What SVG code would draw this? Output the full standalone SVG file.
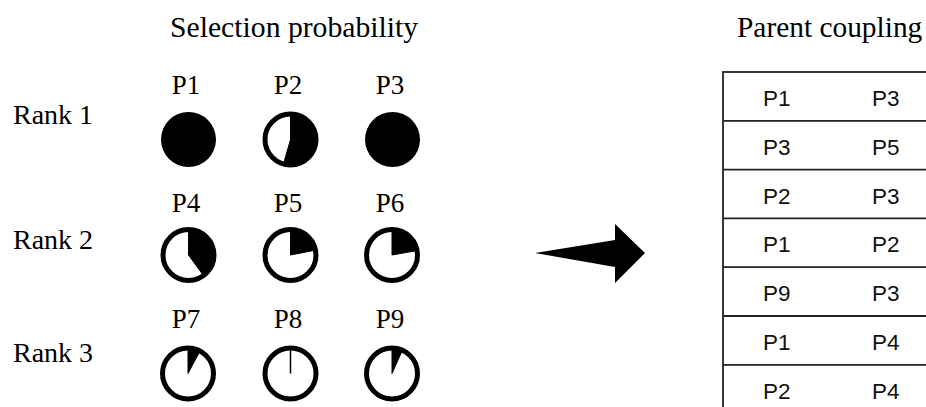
<svg xmlns="http://www.w3.org/2000/svg" width="926" height="407" viewBox="0 0 926 407">
<style>
.serif{font-family:"Liberation Serif","Times New Roman",serif;fill:#000}
.title{font-size:29.7px}
.title2{font-size:29.4px}
.rank{font-size:28px}
.plab{font-size:27px;text-anchor:middle}
.ring{fill:#fff;stroke:#000;stroke-width:5}
.solid{fill:#000}
.wedge{fill:#000;stroke:#000;stroke-width:1}
.cell{font-family:"Liberation Sans",Arial,sans-serif;font-size:22.5px;fill:#111}
.grid{fill:none;stroke:#222;stroke-width:1.8}
</style>
<rect width="926" height="407" fill="#fff"/>
<text class="serif title" x="170" y="37">Selection probability</text>
<text class="serif title2" x="737" y="37">Parent coupling</text>
<g id="rank-labels">
<text class="serif rank" x="13" y="124">Rank 1</text>
<text class="serif rank" x="13" y="249">Rank 2</text>
<text class="serif rank" x="13" y="362">Rank 3</text>
</g>
<g id="p1"><text class="serif plab" x="186" y="94">P1</text><circle class="solid" cx="188.5" cy="139.5" r="27.5"/></g>
<g id="p2"><text class="serif plab" x="288" y="94">P2</text><circle class="ring" cx="290.5" cy="139.5" r="25.5"/><path class="wedge" d="M290.5 139.5 L290.5 114 A25.5 25.5 0 1 1 283.47 164.01 Z"/></g>
<g id="p3"><text class="serif plab" x="390" y="94">P3</text><circle class="solid" cx="392.5" cy="139.5" r="27.5"/></g>
<g id="p4"><text class="serif plab" x="186" y="212">P4</text><circle class="ring" cx="188.5" cy="255" r="25.5"/><path class="wedge" d="M188.5 255 L188.5 229.5 A25.5 25.5 0 0 1 203.49 275.63 Z"/></g>
<g id="p5"><text class="serif plab" x="288" y="212">P5</text><circle class="ring" cx="290.5" cy="255" r="25.5"/><path class="wedge" d="M290.5 255 L290.5 229.5 A25.5 25.5 0 0 1 315.53 250.13 Z"/></g>
<g id="p6"><text class="serif plab" x="390" y="212">P6</text><circle class="ring" cx="392" cy="255" r="25.5"/><path class="wedge" d="M392 255 L392 229.5 A25.5 25.5 0 0 1 417.11 250.57 Z"/></g>
<g id="p7"><text class="serif plab" x="186" y="328">P7</text><circle class="ring" cx="188" cy="373.5" r="25.5"/><path class="wedge" d="M188 373.5 L188 348 A25.5 25.5 0 0 1 199.97 350.99 Z"/></g>
<g id="p8"><text class="serif plab" x="288" y="328">P8</text><circle class="ring" cx="290.5" cy="373.5" r="25.5"/><line x1="290.5" y1="373.5" x2="290.5" y2="348" stroke="#000" stroke-width="1.5"/></g>
<g id="p9"><text class="serif plab" x="390" y="328">P9</text><circle class="ring" cx="392" cy="373.5" r="25.5"/><path class="wedge" d="M392 373.5 L392 348 A25.5 25.5 0 0 1 402.37 350.21 Z"/></g>
<g id="connectors">
<polygon points="535,253 615,240 615,224 645,253 615,283 615,267" fill="#000"/>
</g>
<g id="table">
<rect class="grid" x="723" y="72" width="260" height="360"/>
<line class="grid" x1="723" y1="120.8" x2="926" y2="120.8"/>
<line class="grid" x1="723" y1="169.6" x2="926" y2="169.6"/>
<line class="grid" x1="723" y1="218.4" x2="926" y2="218.4"/>
<line class="grid" x1="723" y1="267.2" x2="926" y2="267.2"/>
<line class="grid" x1="723" y1="316" x2="926" y2="316"/>
<line class="grid" x1="723" y1="364.8" x2="926" y2="364.8"/>
<text class="cell" x="763" y="106">P1</text><text class="cell" x="872" y="106">P3</text>
<text class="cell" x="763" y="154.8">P3</text><text class="cell" x="872" y="154.8">P5</text>
<text class="cell" x="763" y="203.6">P2</text><text class="cell" x="872" y="203.6">P3</text>
<text class="cell" x="763" y="252.4">P1</text><text class="cell" x="872" y="252.4">P2</text>
<text class="cell" x="763" y="301.2">P9</text><text class="cell" x="872" y="301.2">P3</text>
<text class="cell" x="763" y="350">P1</text><text class="cell" x="872" y="350">P4</text>
<text class="cell" x="763" y="398.8">P2</text><text class="cell" x="872" y="398.8">P4</text>
</g>
</svg>
